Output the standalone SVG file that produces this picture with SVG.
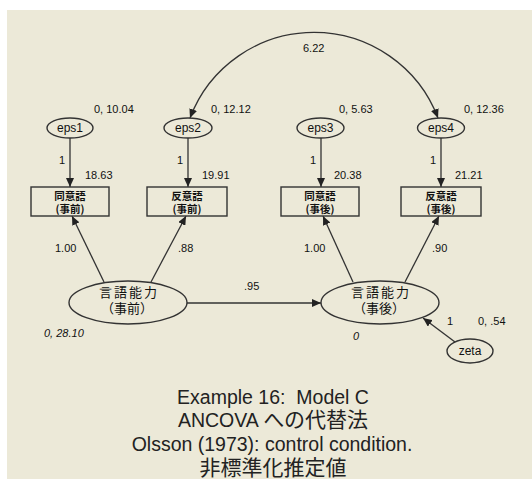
<svg xmlns="http://www.w3.org/2000/svg" width="532" height="479" viewBox="0 0 532 479">
<style>
  .bg { fill: #ECE9D8; }
  .shape { fill: none; stroke: #333; stroke-width: 1.4; }
  .conn { fill: none; stroke: #333; stroke-width: 1.3; }
  .lbl { font-family: "Liberation Sans", "Noto Sans CJK JP", sans-serif; font-size: 11px; fill: #111; }
  .it { font-style: italic; }
  .var { font-family: "Liberation Sans", "Noto Sans CJK JP", sans-serif; font-size: 12px; fill: #111; text-anchor: middle; }
  .box { font-family: "Noto Sans CJK JP", sans-serif; font-size: 10.5px; font-weight: bold; fill: #111; text-anchor: middle; }
  .lat { font-family: "Noto Sans CJK JP", sans-serif; font-size: 13px; fill: #111; text-anchor: middle; }
  .title { font-family: "Liberation Sans", "Noto Sans CJK JP", sans-serif; font-size: 19.5px; fill: #222; text-anchor: middle; }
  .cjk { font-family: "Noto Sans CJK JP", sans-serif; font-size: 21px; }
</style>
<defs>
  <marker id="arr" markerUnits="userSpaceOnUse" markerWidth="9" markerHeight="8" refX="9" refY="4" orient="auto-start-reverse">
    <path d="M0,0 L9,4 L0,8 z" fill="#222"/>
  </marker>
</defs>
<rect class="bg" x="7" y="10" width="525" height="469"/>

<g id="connectors">
  <line class="conn" x1="70" y1="138" x2="70" y2="187" marker-end="url(#arr)"/>
  <line class="conn" x1="188" y1="138" x2="188" y2="187" marker-end="url(#arr)"/>
  <line class="conn" x1="321" y1="138" x2="321" y2="187" marker-end="url(#arr)"/>
  <line class="conn" x1="441" y1="138" x2="441" y2="187" marker-end="url(#arr)"/>
  <line class="conn" x1="104" y1="282" x2="72" y2="216" marker-end="url(#arr)"/>
  <line class="conn" x1="151" y1="282" x2="186" y2="216" marker-end="url(#arr)"/>
  <line class="conn" x1="353" y1="282" x2="323" y2="216" marker-end="url(#arr)"/>
  <line class="conn" x1="405" y1="282" x2="439" y2="216" marker-end="url(#arr)"/>
  <line class="conn" x1="187" y1="303" x2="321" y2="303" marker-end="url(#arr)"/>
  <line class="conn" x1="455" y1="342" x2="423" y2="318" marker-end="url(#arr)"/>
  <path class="conn" d="M190,118 A132.6,132.6 0 0 1 438,118" marker-start="url(#arr)" marker-end="url(#arr)"/>
  <text class="lbl" x="303" y="52">6.22</text>
  <text class="lbl" x="59" y="164">1</text>
  <text class="lbl" x="177" y="164">1</text>
  <text class="lbl" x="310" y="164">1</text>
  <text class="lbl" x="430" y="164">1</text>
  <text class="lbl" x="55" y="252">1.00</text>
  <text class="lbl" x="178" y="252">.88</text>
  <text class="lbl" x="304" y="252">1.00</text>
  <text class="lbl" x="432" y="252">.90</text>
  <text class="lbl" x="244" y="290">.95</text>
  <text class="lbl" x="447" y="325">1</text>
</g>

<g id="eps1">
  <ellipse class="shape" cx="70" cy="128" rx="23" ry="10"/>
  <text class="var" x="70" y="132">eps1</text>
  <text class="lbl" x="94" y="113">0, 10.04</text>
</g>
<g id="eps2">
  <ellipse class="shape" cx="188" cy="128" rx="24" ry="10"/>
  <text class="var" x="188" y="132">eps2</text>
  <text class="lbl" x="211" y="113">0, 12.12</text>
</g>
<g id="eps3">
  <ellipse class="shape" cx="320.5" cy="128" rx="23.5" ry="10"/>
  <text class="var" x="320.5" y="132">eps3</text>
  <text class="lbl" x="339" y="113">0, 5.63</text>
</g>
<g id="eps4">
  <ellipse class="shape" cx="441" cy="128" rx="23.5" ry="10"/>
  <text class="var" x="441" y="132">eps4</text>
  <text class="lbl" x="464" y="113">0, 12.36</text>
</g>

<g id="box1">
  <rect class="shape" x="31" y="187" width="78" height="29"/>
  <text class="box"><tspan x="70" y="200">同意語</tspan><tspan x="70" y="212.5">(事前)</tspan></text>
  <text class="lbl" x="85" y="179">18.63</text>
</g>
<g id="box2">
  <rect class="shape" x="147" y="187" width="80" height="29"/>
  <text class="box"><tspan x="187" y="200">反意語</tspan><tspan x="187" y="212.5">(事前)</tspan></text>
  <text class="lbl" x="202" y="179">19.91</text>
</g>
<g id="box3">
  <rect class="shape" x="281" y="187" width="78" height="29"/>
  <text class="box"><tspan x="320" y="200">同意語</tspan><tspan x="320" y="212.5">(事後)</tspan></text>
  <text class="lbl" x="334" y="179">20.38</text>
</g>
<g id="box4">
  <rect class="shape" x="401" y="187" width="80" height="29"/>
  <text class="box"><tspan x="441" y="200">反意語</tspan><tspan x="441" y="212.5">(事後)</tspan></text>
  <text class="lbl" x="455" y="179">21.21</text>
</g>

<g id="pre">
  <ellipse class="shape" cx="128" cy="302.5" rx="59" ry="21.5"/>
  <text class="lat"><tspan x="129" y="297" letter-spacing="2">言語能力</tspan><tspan x="127" y="313">（事前）</tspan></text>
  <text class="lbl it" x="44" y="337">0, 28.10</text>
</g>
<g id="post">
  <ellipse class="shape" cx="380" cy="302.5" rx="59" ry="21.5"/>
  <text class="lat"><tspan x="381" y="297" letter-spacing="2">言語能力</tspan><tspan x="379" y="313">（事後）</tspan></text>
  <text class="lbl it" x="353" y="340">0</text>
</g>
<g id="zeta">
  <ellipse class="shape" cx="470" cy="351" rx="23" ry="12"/>
  <text class="var" x="470" y="355">zeta</text>
  <text class="lbl" x="478" y="325">0, .54</text>
</g>

<g id="title">
  <text class="title"><tspan x="273" y="404">Example 16:&#160; Model C</tspan><tspan x="273" y="427">ANCOVA <tspan class="cjk">への代替法</tspan></tspan><tspan x="272" y="451">Olsson (1973): control condition.</tspan><tspan x="273" y="475" class="cjk">非標準化推定値</tspan></text>
</g>
</svg>
